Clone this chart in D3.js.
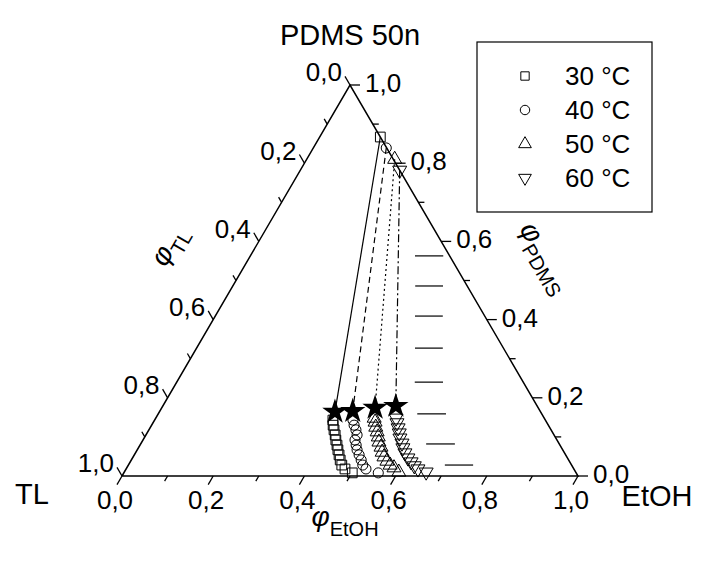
<!DOCTYPE html>
<html><head><meta charset="utf-8">
<script src="https://cdn.jsdelivr.net/npm/d3@7"></script>
<style>body{margin:0;background:#fff} text{font-family:"Liberation Sans",Arial,sans-serif;fill:#000}</style>
</head><body><svg id="c" width="701" height="561"></svg>
<script>
// ---- data (compositions as [phi_EtOH, phi_PDMS]; phi_TL = 1 - both) ----
const seriesNames = ["30 °C", "40 °C", "50 °C", "60 °C"];
const tickValues = [0, 0.2, 0.4, 0.6, 0.8, 1.0];
const tickLabels = ["0,0", "0,2", "0,4", "0,6", "0,8", "1,0"];
const minorTickValues = [0.1, 0.3, 0.5, 0.7, 0.9];
const topPhase = [[0.133, 0.867], [0.160, 0.839], [0.193, 0.810], [0.218, 0.782]];
const starPoints = [[0.385, 0.164], [0.423, 0.166], [0.468, 0.174], [0.511, 0.179]];
const curve30 = [[0.391,0.143],[0.398,0.130],[0.406,0.118],[0.415,0.105],[0.423,0.092],[0.432,0.079],[0.440,0.067],[0.449,0.054],[0.458,0.041],[0.468,0.028],[0.480,0.018],[0.501,0.008]];
const curve40 = [[0.435,0.143],[0.444,0.130],[0.454,0.118],[0.463,0.105],[0.465,0.092],[0.474,0.079],[0.482,0.067],[0.493,0.054],[0.504,0.041],[0.514,0.028],[0.526,0.018],[0.558,0.008]];
const curve50 = [[0.479,0.148],[0.486,0.138],[0.494,0.125],[0.503,0.113],[0.512,0.100],[0.520,0.087],[0.531,0.074],[0.540,0.061],[0.550,0.049],[0.562,0.038],[0.574,0.028],[0.586,0.021],[0.602,0.010]];
const curve60 = [[0.527,0.148],[0.535,0.136],[0.544,0.123],[0.553,0.110],[0.561,0.097],[0.572,0.084],[0.580,0.072],[0.591,0.059],[0.604,0.046],[0.616,0.036],[0.628,0.026],[0.640,0.018],[0.662,0.010]];
// horizontal dashes: [phi_PDMS, phi_EtOH start, phi_EtOH end]
const dashes = [[0.563,0.361,0.423],[0.486,0.400,0.461],[0.409,0.438,0.499],[0.327,0.479,0.540],[0.240,0.522,0.584],[0.159,0.568,0.631],[0.082,0.626,0.689],[0.028,0.694,0.756]];

const curves = [curve30, curve40, curve50, curve60];
const symbolTypes = [d3.symbolSquare, d3.symbolCircle, d3.symbolTriangle, d3.symbolTriangle];
const symbolSizes = [95, 80, 85, 85];
const symbolRot = [0, 0, 0, 180];
const dashStyles = [null, "6,4", "2,3", "8,3,2,3"];

const svg = d3.select("#c");
const xs = d3.scaleLinear().domain([0, 1]).range([122, 578]);
const ys = d3.scaleLinear().domain([0, 1]).range([476, 85]);
const P = (e, p) => [xs(e + p / 2), ys(p)];

// triangle
svg.append("path")
  .attr("d", d3.line()([P(0,0), P(1,0), P(0,1), P(0,0)]))
  .attr("fill", "none").attr("stroke", "#000").attr("stroke-width", 1.5);

const sin60 = Math.sqrt(3) / 2;
function tick(pt, dir, len) {
  return [pt, [pt[0] + dir[0] * len, pt[1] + dir[1] * len]];
}
const g = svg.append("g");
const allT = tickValues.map(v => ({v, major: true})).concat(minorTickValues.map(v => ({v, major: false})));
allT.forEach(t => {
  const len = t.major ? 10 : 6;
  let s = tick(P(t.v, 0), [-0.5, sin60], len);
  g.append("path").attr("d", d3.line()(s)).attr("stroke", "#000").attr("stroke-width", 1.3);
  s = tick(P(0, 1 - t.v), [-0.5, -sin60], len);
  g.append("path").attr("d", d3.line()(s)).attr("stroke", "#000").attr("stroke-width", 1.3);
  s = tick(P(1 - t.v, t.v), [1, 0], len);
  g.append("path").attr("d", d3.line()(s)).attr("stroke", "#000").attr("stroke-width", 1.3);
});
const fs = 26;
tickValues.forEach((v, i) => {
  let e = tick(P(v, 0), [-0.5, sin60], 10)[1];
  g.append("text").attr("x", e[0] - 2).attr("y", e[1] + 24).attr("text-anchor", "middle")
    .attr("font-size", fs).text(tickLabels[i]);
  e = tick(P(0, 1 - v), [-0.5, -sin60], 10)[1];
  g.append("text").attr("x", e[0] - 3).attr("y", e[1] - 4).attr("text-anchor", "end")
    .attr("dominant-baseline", "central").attr("font-size", fs).text(tickLabels[i]);
  e = tick(P(1 - v, v), [1, 0], 10)[1];
  g.append("text").attr("x", e[0] + 5).attr("y", e[1] - 2).attr("text-anchor", "start")
    .attr("dominant-baseline", "central").attr("font-size", fs).text(tickLabels[i]);
});

// axis titles
function phiLabel(x, y, rot, sub, dy) {
  const t = svg.append("text").attr("transform", `translate(${x},${y}) rotate(${rot})`)
    .attr("text-anchor", "middle");
  t.append("tspan").attr("font-size", 28).attr("font-style", "italic").text("φ");
  t.append("tspan").attr("font-size", 20).attr("dy", dy).text(sub);
}
phiLabel(176, 250, -60, "TL", 8);
phiLabel(538, 262, 60, "PDMS", 8);
phiLabel(345, 526, 0, "EtOH", 10);

svg.append("text").attr("x", 350).attr("y", 45).attr("text-anchor", "middle").attr("font-size", 29).text("PDMS 50n");
svg.append("text").attr("x", 32).attr("y", 504).attr("text-anchor", "middle").attr("font-size", 29).text("TL");
svg.append("text").attr("x", 657).attr("y", 506).attr("text-anchor", "middle").attr("font-size", 29).text("EtOH");

// dashes
dashes.forEach(d => {
  svg.append("path").attr("d", d3.line()([P(d[1], d[0]), P(d[2], d[0])]))
    .attr("stroke", "#333").attr("stroke-width", 1.5);
});

// tie lines
topPhase.forEach((tp, i) => {
  svg.append("path").attr("d", d3.line()([P(...tp), P(...starPoints[i])]))
    .attr("fill", "none").attr("stroke", "#000").attr("stroke-width", 1.2)
    .attr("stroke-dasharray", dashStyles[i]);
});

// markers
function marker(pt, i) {
  svg.append("path").attr("d", d3.symbol().type(symbolTypes[i]).size(symbolSizes[i])())
    .attr("transform", `translate(${pt[0]},${pt[1]}) rotate(${symbolRot[i]})`)
    .attr("fill", "none").attr("stroke", "#000").attr("stroke-width", 1);
}
curves.forEach((c, i) => {
  c.forEach(d => marker(P(...d), i));
  marker(P(...topPhase[i]), i);
});
starPoints.forEach(s => {
  const p = P(...s);
  svg.append("path").attr("d", d3.symbol().type(d3.symbolStar).size(200)())
    .attr("transform", `translate(${p[0]},${p[1]})`).attr("fill", "#000");
});

// legend
svg.append("rect").attr("x", 477).attr("y", 42).attr("width", 175).attr("height", 170)
  .attr("fill", "none").attr("stroke", "#000").attr("stroke-width", 1.2);
seriesNames.forEach((n, i) => {
  const y = 76 + i * 34;
  svg.append("path").attr("d", d3.symbol().type(symbolTypes[i]).size(70)())
    .attr("transform", `translate(525,${y}) rotate(${symbolRot[i]})`)
    .attr("fill", "none").attr("stroke", "#000").attr("stroke-width", 1);
  svg.append("text").attr("x", 565).attr("y", y).attr("dominant-baseline", "central")
    .attr("font-size", 26).text(n);
});
</script></body></html>
